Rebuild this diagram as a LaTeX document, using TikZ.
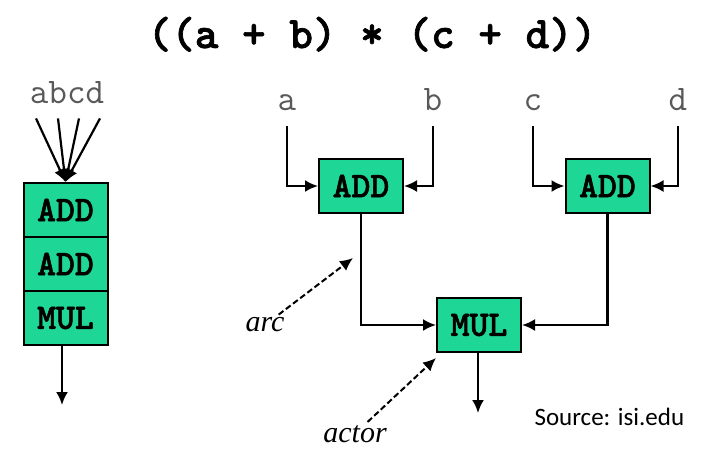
\documentclass[tikz,border=0pt]{standalone}
\usepackage{fontspec}
\usepackage{xcolor}
\usepackage{tikz}
\usetikzlibrary{arrows.meta, positioning, calc}
\newfontfamily\notefont{Liberation Serif}
\newfontfamily\srcfont{Carlito}
\newfontfamily\codebold{lmmonolt10-bold.otf}[FakeBold=1.5]
\definecolor{actorgreen}{RGB}{30,214,150}

\begin{document}
\begin{tikzpicture}[x=1pt, y=-1pt,
    actor/.style={draw, line width=2pt, fill=actorgreen, minimum width=84pt, minimum height=54pt,
        inner sep=0pt, font=\codebold\fontsize{36}{36}\selectfont},
    token/.style={anchor=base, inner xsep=0pt, inner ysep=16pt, text=black!65,
        font=\ttfamily\fontsize{36}{36}\selectfont},
    flow/.style={line width=2.2pt, -{Latex[length=13pt, width=12pt]}},
    note/.style={inner sep=3pt, font=\notefont\itshape\fontsize{30}{30}\selectfont},
    pointer/.style={line width=2pt, dash pattern=on 6pt off 3pt, -{Latex[length=13pt, width=12pt]}}]
    \useasboundingbox (0,0) rectangle (701,448);

    % Ausdruck
    \node[anchor=base, font=\codebold\fontsize{45}{45}\selectfont] (expr) at (372,48) {((a + b) * (c + d))};

    % sequentielle Ausfuehrung
    \node[token, inner ysep=15pt] (abcd) at (67,103) {abcd};
    \node[actor] (adds1) at (65.5,210) {ADD};
    \node[actor] (adds2) at (65.5,264) {ADD};
    \node[actor] (muls) at (65.5,318) {MUL};
    \foreach \dx in {-31,-9,12,33} {
        \draw[flow] ([xshift=\dx pt]abcd.south) -- (adds1.north);
    }
    \coordinate (outl) at (62,405);
    \draw[flow] (muls.south -| outl) -- (outl);

    % Datenfluss
    \node[token] (a) at (287,110) {a};
    \node[token] (b) at (433,110) {b};
    \node[token] (c) at (533,110) {c};
    \node[token] (d) at (678,110) {d};
    \node[actor] (add1) at (361,186) {ADD};
    \node[actor] (add2) at (607.5,186) {ADD};
    \node[actor] (mul) at (479,325) {MUL};
    \draw[flow] (a) |- (add1);
    \draw[flow] (b) |- (add1);
    \draw[flow] (c) |- (add2);
    \draw[flow] (d) |- (add2);
    \draw[flow] (add1) |- (mul);
    \draw[flow] (add2) |- (mul);
    \coordinate (outr) at (478,413);
    \draw[flow] (mul.south -| outr) -- (outr);

    % Begriffe
    \node[note] (arc) at (265,325) {arc};
    \coordinate (arctip) at (353,258);
    \draw[pointer] (arc) -- (arctip);
    \node[note, anchor=base] (actorlbl) at (355,442) {actor};
    \draw[pointer] (actorlbl) -- ([shift={(0,5)}]mul.south west);

    \node[anchor=base west, font=\srcfont\fontsize{25}{25}\selectfont] (src) at (531,425) {Source: isi.edu};
\end{tikzpicture}
\end{document}
